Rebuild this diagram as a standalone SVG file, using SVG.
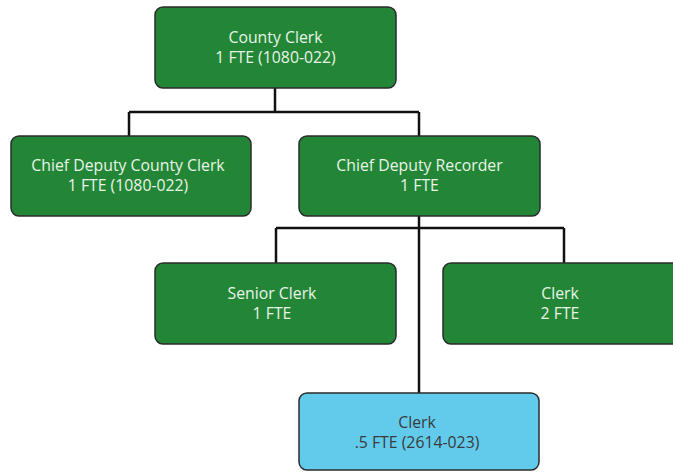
<svg xmlns="http://www.w3.org/2000/svg" width="673" height="472" viewBox="0 0 673 472">
<style>
.n rect{fill:#238636;stroke:#2b2b2b;stroke-width:1.5}
.n.b rect{fill:#62cbec}
.n text{font-family:"Open Sans","DejaVu Sans",sans-serif;font-size:15.8px;fill:#e8f4e8;text-anchor:middle}
.n.b text{fill:#3a3a3a}
.c path{fill:none;stroke:#111;stroke-width:2.5}
</style>
<rect width="673" height="472" fill="#fff"/>
<g class="c">
<path d="M275 88V112M129 112H419M129 112V136M419 112V136"/>
<path d="M419 216V393M276 228H564M276 228V263M564 228V263"/>
</g>
<g id="county-clerk" class="n"><rect x="155" y="7" width="241" height="81" rx="8"/><text x="275.5" y="43">County Clerk</text><text x="275.5" y="63">1 FTE (1080-022)</text></g>
<g id="chief-deputy-county-clerk" class="n"><rect x="11" y="136" width="240" height="80" rx="8"/><text x="128" y="171">Chief Deputy County Clerk</text><text x="128" y="191">1 FTE (1080-022)</text></g>
<g id="chief-deputy-recorder" class="n"><rect x="299" y="136" width="241" height="80" rx="8"/><text x="419.5" y="171">Chief Deputy Recorder</text><text x="419.5" y="191">1 FTE</text></g>
<g id="senior-clerk" class="n"><rect x="155" y="263" width="241" height="81" rx="8"/><text x="272" y="299">Senior Clerk</text><text x="272" y="319">1 FTE</text></g>
<g id="clerk-2" class="n"><rect x="443" y="263" width="241" height="81" rx="8"/><text x="560" y="299">Clerk</text><text x="560" y="319">2 FTE</text></g>
<g id="clerk-half" class="n b"><rect x="299" y="393" width="240" height="77" rx="8"/><text x="417" y="428">Clerk</text><text x="417" y="448">.5 FTE (2614-023)</text></g>
</svg>
